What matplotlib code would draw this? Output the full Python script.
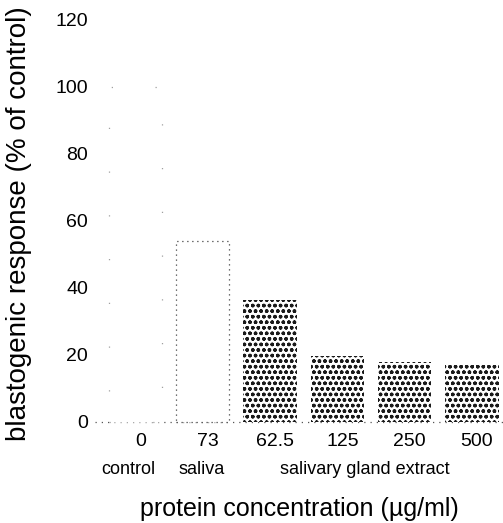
import matplotlib
matplotlib.use("Agg")
import matplotlib.pyplot as plt
import matplotlib.transforms as mtransforms

# ---- data ----
tick_labels = ["0", "73", "62.5", "125", "250", "500"]
response = [100, 54, 36.3, 19.8, 18.0, 17.1]   # % of control
groups = ["control", "saliva", "salivary gland extract"]
group_x = [-0.1, 0.98, 3.4]

plt.rcParams["font.family"] = ["Liberation Sans", "DejaVu Sans"]
plt.rcParams["hatch.linewidth"] = 1.0

fig = plt.figure(figsize=(5.03, 5.23), dpi=100)
ax = fig.add_axes([0.189, 0.178, 0.811, 0.803])

x = list(range(len(response)))
width = 0.79

# control bar: almost faded out in the scan
ax.bar(x[0], response[0], width=width, facecolor="white",
       edgecolor="#a0a0a0", linewidth=0.9, linestyle=(0, (1, 34)))
# saliva bar: dotted outline only
ax.bar(x[1], response[1], width=width, facecolor="white",
       edgecolor="#444444", linewidth=0.9, linestyle=(0, (1, 3)))
# extract bars: halftone stipple
ax.bar(x[2:], response[2:], width=width, facecolor="white",
       edgecolor="#1a1a1a", linewidth=0, hatch="ooo")

ax.axhline(0, color="#555555", linewidth=0.9, linestyle=(0, (1, 4)), zorder=0)

ax.set_xlim(-0.6, 5.46)
ax.set_ylim(-2.4, 123)
ax.set_yticks(range(0, 121, 20))
ax.set_xticks(x)
ax.set_xticklabels(tick_labels)
ax.tick_params(axis="both", length=0, labelsize=14)
ax.tick_params(axis="y", pad=5)
ax.tick_params(axis="x", pad=2)
shift = mtransforms.ScaledTranslation(5 / 100, 0, fig.dpi_scale_trans)
for lab in ax.get_xticklabels():
    lab.set_transform(lab.get_transform() + shift)
for s in ax.spines.values():
    s.set_visible(False)

# group names under the tick labels
trans = mtransforms.blended_transform_factory(ax.transData, ax.transAxes)
for name, gx in zip(groups, group_x):
    ax.text(gx, -0.095, name, transform=trans, ha="center", va="center",
            fontsize=13)

ax.set_xlabel("protein concentration (\u00b5g/ml)", fontsize=18, labelpad=34)
ax.set_ylabel("blastogenic response (% of control)", fontsize=20)
ax.yaxis.set_label_coords(-0.155, 0.49)

plt.savefig("out.png", dpi=100)
